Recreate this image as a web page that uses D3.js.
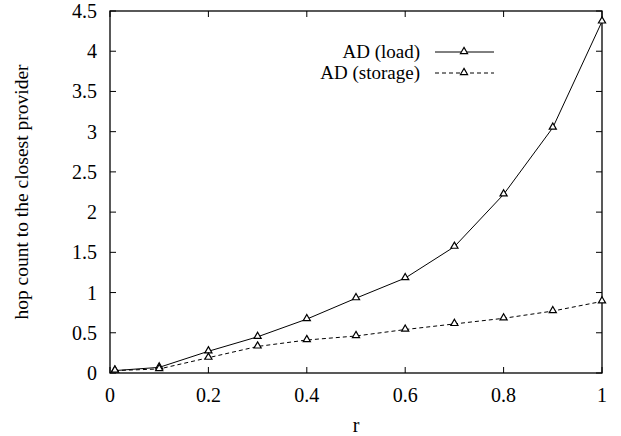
<!DOCTYPE html>
<html>
<head>
<meta charset="utf-8">
<script src="https://cdn.jsdelivr.net/npm/d3@7"></script>
<style>
  body { margin: 0; background: #fff; }
  text { font-family: "Liberation Serif", "Times New Roman", serif; fill: #000; }
</style>
</head>
<body>
<div id="chart"></div>
<script>
const rValues = [0.01, 0.1, 0.2, 0.3, 0.4, 0.5, 0.6, 0.7, 0.8, 0.9, 1.0];
const loadValues = [0.03, 0.07, 0.27, 0.45, 0.67, 0.93, 1.18, 1.57, 2.22, 3.05, 4.37];
const storageValues = [0.03, 0.05, 0.19, 0.33, 0.41, 0.46, 0.54, 0.61, 0.68, 0.77, 0.89];
const seriesNames = ["AD (load)", "AD (storage)"];
const xTicks = [0, 0.2, 0.4, 0.6, 0.8, 1];
const yTicks = [0, 0.5, 1, 1.5, 2, 2.5, 3, 3.5, 4, 4.5];

const width = 621;
const height = 436;
const margin = { top: 11, right: 19, bottom: 63, left: 110 };

const svg = d3.select("#chart")
    .append("svg")
    .attr("width", width)
    .attr("height", height);

const x = d3.scaleLinear().domain([0, 1]).range([margin.left, width - margin.right]);
const y = d3.scaleLinear().domain([0, 4.5]).range([height - margin.bottom, margin.top]);

// frame
svg.append("rect")
    .attr("x", x(0)).attr("y", y(4.5))
    .attr("width", x(1) - x(0)).attr("height", y(0) - y(4.5))
    .attr("fill", "none").attr("stroke", "#000").attr("stroke-width", 1.3);

// ticks (inward, mirrored on opposite side)
const tickLen = 6;
const fmt = d => d3.format("~g")(d);

xTicks.forEach(t => {
    svg.append("line").attr("x1", x(t)).attr("x2", x(t))
        .attr("y1", y(0)).attr("y2", y(0) - tickLen).attr("stroke", "#000");
    svg.append("line").attr("x1", x(t)).attr("x2", x(t))
        .attr("y1", y(4.5)).attr("y2", y(4.5) + tickLen).attr("stroke", "#000");
    svg.append("text").attr("x", x(t)).attr("y", y(0) + 29)
        .attr("text-anchor", "middle").attr("font-size", 20).text(fmt(t));
});

yTicks.forEach(t => {
    svg.append("line").attr("x1", x(0)).attr("x2", x(0) + tickLen)
        .attr("y1", y(t)).attr("y2", y(t)).attr("stroke", "#000");
    svg.append("line").attr("x1", x(1)).attr("x2", x(1) - tickLen)
        .attr("y1", y(t)).attr("y2", y(t)).attr("stroke", "#000");
    svg.append("text").attr("x", x(0) - 13).attr("y", y(t) + 7)
        .attr("text-anchor", "end").attr("font-size", 20).text(fmt(t));
});

// axis labels
svg.append("text").attr("x", (x(0) + x(1)) / 2).attr("y", 432)
    .attr("text-anchor", "middle").attr("font-size", 20).text("r");
svg.append("text")
    .attr("transform", `translate(28,${(y(0) + y(4.5)) / 2}) rotate(-90)`)
    .attr("text-anchor", "middle").attr("font-size", 19.5)
    .text("hop count to the closest provider");

// series
const series = [
    { name: seriesNames[0], values: loadValues, dash: null },
    { name: seriesNames[1], values: storageValues, dash: "4,3" }
];

const line = d3.line().x(d => x(d[0])).y(d => y(d[1]));
const tri = d3.symbol().type(d3.symbolTriangle).size(22);

series.forEach((s, i) => {
    const pts = rValues.map((r, j) => [r, s.values[j]]);
    svg.append("path").datum(pts)
        .attr("d", line)
        .attr("fill", "none").attr("stroke", "#000").attr("stroke-width", 1)
        .attr("stroke-dasharray", s.dash);
    svg.selectAll(null).data(pts).enter()
        .append("path")
        .attr("d", tri)
        .attr("transform", d => `translate(${x(d[0])},${y(d[1]) - 0.5})`)
        .attr("fill", "#fff").attr("stroke", "#000").attr("stroke-width", 1.2);

    // legend
    const ly = 52 + i * 21;
    svg.append("text").attr("x", 420).attr("y", ly + 6)
        .attr("text-anchor", "end").attr("font-size", 19).text(s.name);
    svg.append("line").attr("x1", 435).attr("x2", 494)
        .attr("y1", ly).attr("y2", ly)
        .attr("stroke", "#000").attr("stroke-dasharray", s.dash);
    svg.append("path").attr("d", tri)
        .attr("transform", `translate(464,${ly - 0.5})`)
        .attr("fill", "#fff").attr("stroke", "#000").attr("stroke-width", 1.2);
});
</script>
</body>
</html>
